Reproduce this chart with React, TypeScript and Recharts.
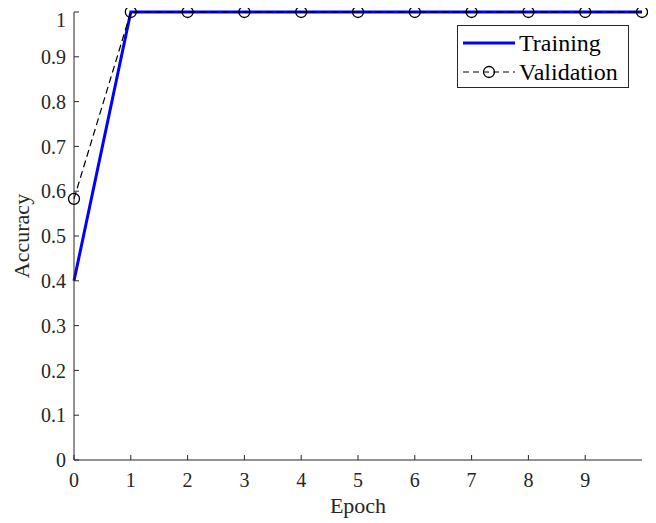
import React from 'react';
import { LineChart, Line, XAxis, YAxis } from 'recharts';

const epochs = [0, 1, 2, 3, 4, 5, 6, 7, 8, 9, 10];
const trainingAcc = [0.4, 1, 1, 1, 1, 1, 1, 1, 1, 1, 1];
const validationAcc = [0.583, 1, 1, 1, 1, 1, 1, 1, 1, 1, 1];
const xTicks = [0, 1, 2, 3, 4, 5, 6, 7, 8, 9];
const xTicksTop = [0, 1, 2, 3, 4, 5, 6, 7, 8, 9, 10];
const yTicks = [0, 0.1, 0.2, 0.3, 0.4, 0.5, 0.6, 0.7, 0.8, 0.9, 1];
const seriesNames = ['Training', 'Validation'];

const data = epochs.map((e, i) => ({ epoch: e, train: trainingAcc[i], val: validationAcc[i] }));

const FONT = '"Liberation Serif", "Times New Roman", serif';
const AX = '#262626';

const LegendBox = () => (
  <svg width={172} height={63} style={{ display: 'block', fontFamily: FONT }}>
    <rect x={0.5} y={0.5} width={171} height={62} fill="#fff" stroke={AX} strokeWidth={1} />
    <line x1={6} x2={58} y1={18} y2={18} stroke="#0000ff" strokeWidth={3} />
    <text x={62} y={18} dy="0.35em" style={{ fontFamily: FONT, fontSize: 24 }} fill="#000">{seriesNames[0]}</text>
    <line x1={6} x2={58} y1={47} y2={47} stroke="#000" strokeWidth={1.2} strokeDasharray="6 4" />
    <circle cx={32} cy={47} r={5.5} fill="none" stroke="#000" strokeWidth={1.3} />
    <text x={62} y={47} dy="0.35em" style={{ fontFamily: FONT, fontSize: 24 }} fill="#000">{seriesNames[1]}</text>
  </svg>
);

const AccLabel = (props: any) => {
  const vb = props.viewBox || { x: 0, y: 0, width: 0, height: 0 };
  const cx = vb.x + 21;
  const cy = vb.y + vb.height / 2;
  return (
    <text x={cx} y={cy} transform={`rotate(-90, ${cx}, ${cy})`} textAnchor="middle" style={{ fontFamily: FONT, fontSize: 22 }} fill={AX}>
      Accuracy
    </text>
  );
};

export default function App() {
  return (
    <div style={{ width: 648, height: 515, position: 'relative', fontFamily: FONT }}>
      <LineChart width={648} height={515} data={data} margin={{ top: 4, right: 14, left: 0, bottom: 0 }} style={{ fontFamily: FONT }}>
        <XAxis
          xAxisId="bottom"
          dataKey="epoch"
          type="number"
          domain={[0, 10]}
          ticks={xTicks}
          height={63}
          tickSize={-5}
          tickMargin={18}
          stroke={AX}
          tick={{ fill: AX, fontSize: 20, fontFamily: FONT }}
          label={{ value: 'Epoch', position: 'insideBottom', offset: 10, fill: AX, fontSize: 22, fontFamily: FONT }}
        />
        <XAxis
          xAxisId="top"
          orientation="top"
          dataKey="epoch"
          type="number"
          domain={[0, 10]}
          ticks={xTicksTop}
          height={0}
          tickSize={-5}
          stroke={AX}
          tick={false}
        />
        <YAxis
          yAxisId="left"
          type="number"
          domain={[0, 1]}
          ticks={yTicks}
          width={66}
          tickSize={-5}
          tickMargin={13}
          stroke={AX}
          tick={{ fill: AX, fontSize: 20, fontFamily: FONT }}
          tickFormatter={(v: number) => String(v)}
          label={<AccLabel />}
        />
        <YAxis
          yAxisId="right"
          orientation="right"
          type="number"
          domain={[0, 1]}
          ticks={yTicks}
          width={0}
          tickSize={-5}
          stroke={AX}
          tick={false}
        />
        <Line
          xAxisId="bottom"
          yAxisId="left"
          dataKey="train"
          name={seriesNames[0]}
          type="linear"
          stroke="#0000ff"
          strokeWidth={3}
          dot={false}
          isAnimationActive={false}
        />
        <Line
          xAxisId="bottom"
          yAxisId="left"
          dataKey="val"
          name={seriesNames[1]}
          type="linear"
          stroke="#000"
          strokeWidth={1.2}
          strokeDasharray="7 4"
          dot={{ r: 5.5, stroke: '#000', strokeWidth: 1.3, fill: 'none', strokeDasharray: '0' }}
          isAnimationActive={false}
        />
      </LineChart>
      <div style={{ position: 'absolute', left: 449, top: 17, width: 172, height: 63 }}>
        <LegendBox />
      </div>
    </div>
  );
}
